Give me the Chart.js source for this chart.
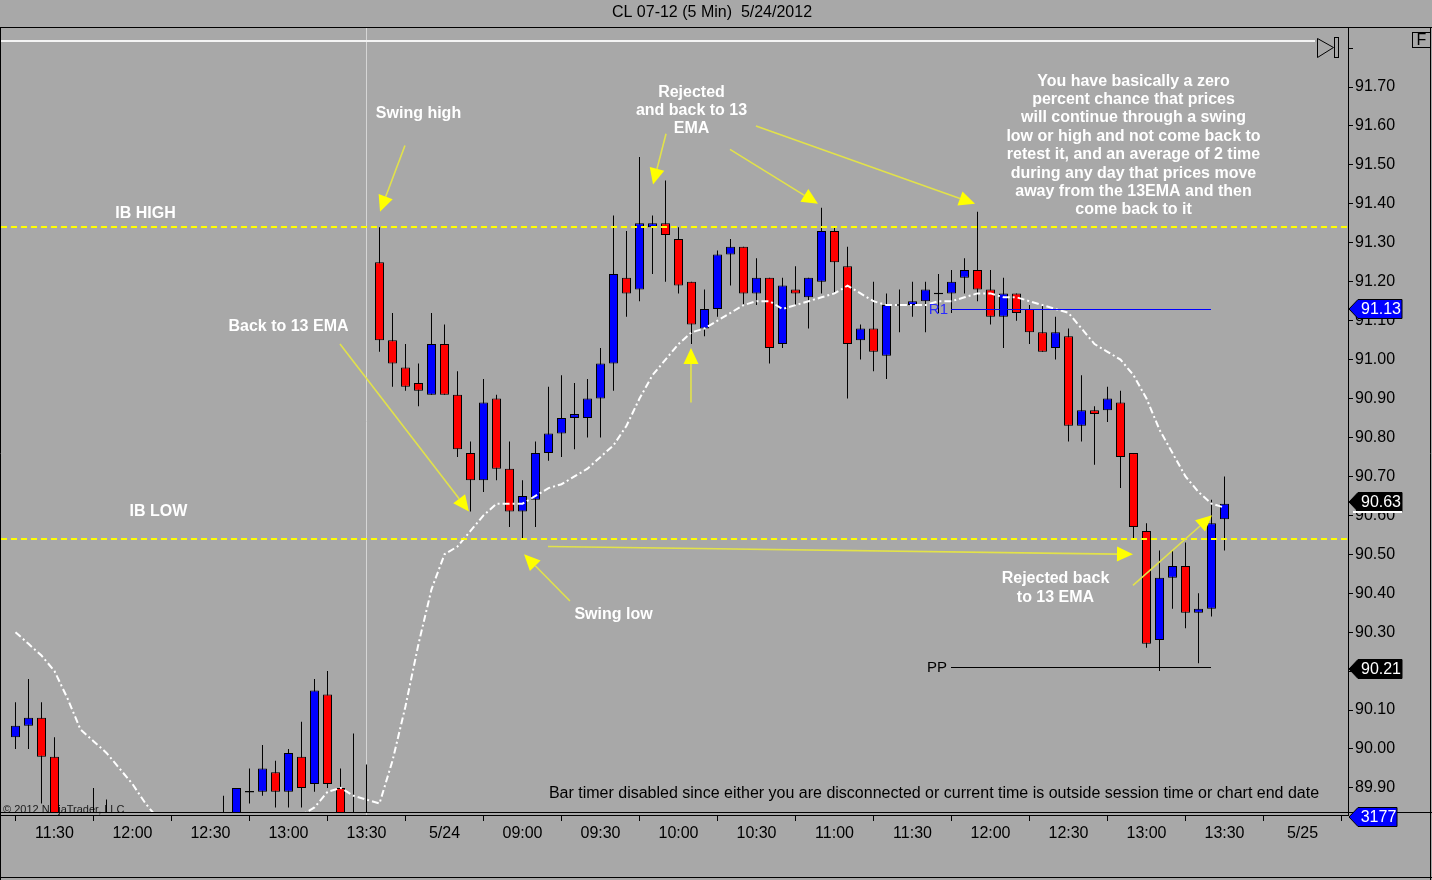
<!DOCTYPE html>
<html lang="en">
<head>
<meta charset="utf-8">
<title>CL 07-12 (5 Min) 5/24/2012</title>
<script src="https://cdn.jsdelivr.net/npm/chart.js@4.4.1/dist/chart.umd.min.js"></script>
<style>
  html, body { margin: 0; padding: 0; background: #a8a8a8; overflow: hidden; }
  #kotak { position: relative; width: 1432px; height: 880px; }
</style>
</head>
<body>
<div id="kotak"><canvas id="grafik" width="1432" height="880"></canvas></div>
<script>
// 5 menit CL 07-12, bar ke-0 = 11:15 sesi sebelumnya, bar ke-28 = bar pertama 5/24
// null = bar tidak kelihatan (di bawah skala)
const opens = [
  90.03, 90.06, 90.08, 89.98, null, null, 89.80, 89.78, null, null,
  null, null, null, null, null, null, 89.78, 89.79, 89.89, 89.89,
  89.94, 89.89, 89.98, 89.91, 90.14, 89.90, 89.82, 89.81, 91.25, 91.05,
  90.98, 90.94, 90.91, 91.04, 90.91, 90.76, 90.69, 90.90, 90.72, 90.61,
  90.64, 90.76, 90.81, 90.85, 90.85, 90.90, 90.99, 91.21, 91.18, 91.34,
  91.35, 91.31, 91.20, 91.08, 91.13, 91.27, 91.29, 91.17, 91.21, 91.04,
  91.18, 91.16, 91.20, 91.33, 91.24, 91.05, 91.08, 91.01, 91.14, 91.14,
  91.15, 91.17, 91.17, 91.21, 91.23, 91.18, 91.11, 91.17, 91.13, 91.07,
  91.03, 91.06, 90.83, 90.87, 90.87, 90.89, 90.76, 90.56, 90.28, 90.44,
  90.47, 90.35, 90.36, 90.59
];
const highs = [
  90.12, 90.18, 90.12, 90.03, null, null, 89.90, 89.87, null, null,
  null, null, null, null, null, null, 89.88, 89.90, 89.95, 90.01,
  89.97, 90.00, 90.07, 90.18, 90.20, 89.95, 90.04, 89.96, 91.34, 91.12,
  91.04, 90.99, 91.12, 91.09, 90.97, 90.79, 90.95, 90.91, 90.79, 90.69,
  90.79, 90.93, 90.96, 90.94, 90.95, 91.03, 91.37, 91.33, 91.52, 91.37,
  91.46, 91.34, 91.20, 91.18, 91.28, 91.31, 91.29, 91.26, 91.21, 91.21,
  91.24, 91.21, 91.39, 91.34, 91.29, 91.09, 91.20, 91.17, 91.18, 91.20,
  91.20, 91.22, 91.23, 91.26, 91.38, 91.23, 91.21, 91.17, 91.14, 91.14,
  91.11, 91.08, 90.96, 90.88, 90.93, 90.92, 90.76, 90.58, 90.51, 90.51,
  90.53, 90.40, 90.64, 90.70
];
const lows = [
  90.00, 90.00, 89.86, 89.76, null, null, 89.74, 89.72, null, null,
  null, null, null, null, null, null, 89.74, 89.77, 89.86, 89.88,
  89.85, 89.85, 89.85, 89.89, 89.90, 89.78, 89.78, 89.78, 91.02, 90.93,
  90.92, 90.88, 90.91, 90.91, 90.75, 90.61, 90.66, 90.69, 90.57, 90.54,
  90.57, 90.74, 90.75, 90.77, 90.80, 90.80, 90.92, 91.11, 91.15, 91.22,
  91.20, 91.17, 91.04, 91.06, 91.11, 91.19, 91.14, 91.14, 90.99, 91.03,
  91.14, 91.08, 91.17, 91.17, 90.90, 91.00, 90.97, 90.95, 91.07, 91.11,
  91.07, 91.12, 91.12, 91.17, 91.15, 91.09, 91.03, 91.10, 91.04, 91.02,
  91.00, 90.79, 90.79, 90.73, 90.84, 90.67, 90.54, 90.26, 90.20, 90.36,
  90.31, 90.22, 90.34, 90.51
];
const closes = [
  90.06, 90.08, 89.98, 89.79, null, null, 89.76, 89.75, null, null,
  null, null, null, null, null, null, 89.80, 89.90, 89.89, 89.95,
  89.89, 89.99, 89.90, 90.15, 89.91, 89.80, 89.80, 89.79, 91.05, 90.99,
  90.93, 90.92, 91.04, 90.91, 90.77, 90.69, 90.89, 90.72, 90.61, 90.65,
  90.76, 90.81, 90.85, 90.86, 90.90, 90.99, 91.22, 91.17, 91.35, 91.35,
  91.32, 91.19, 91.09, 91.13, 91.27, 91.29, 91.17, 91.21, 91.03, 91.19,
  91.17, 91.21, 91.33, 91.25, 91.04, 91.08, 91.02, 91.14, 91.14, 91.15,
  91.18, 91.17, 91.20, 91.23, 91.18, 91.11, 91.17, 91.12, 91.07, 91.02,
  91.07, 90.83, 90.87, 90.86, 90.90, 90.75, 90.57, 90.27, 90.44, 90.47,
  90.35, 90.36, 90.58, 90.63
];
// EMA 13
const ema13 = [
  90.30, 90.27, 90.24, 90.20, 90.13, 90.05, 90.02, 89.99, 89.95, 89.91,
  89.86, 89.82, 89.79, 89.77, 89.76, 89.75, 89.75, 89.76, 89.77, 89.78,
  89.79, 89.80, 89.83, 89.85, 89.89, 89.90, 89.88, 89.87, 89.86, 89.97,
  90.11, 90.27, 90.41, 90.50, 90.52, 90.56, 90.60, 90.63, 90.63, 90.63,
  90.65, 90.67, 90.68, 90.70, 90.72, 90.75, 90.78, 90.83, 90.90, 90.96,
  91.00, 91.04, 91.07, 91.08, 91.10, 91.12, 91.14, 91.15, 91.15, 91.13,
  91.14, 91.15, 91.16, 91.17, 91.19, 91.17, 91.15, 91.14, 91.14, 91.14,
  91.14, 91.15, 91.15, 91.16, 91.17, 91.17, 91.16, 91.16, 91.15, 91.14,
  91.13, 91.12, 91.08, 91.04, 91.02, 91.00, 90.96, 90.90, 90.82, 90.76,
  90.70, 90.66, 90.63, 90.62
];

const timeTicks = [3, 9, 15, 21, 27, 33, 39, 45, 51, 57, 63, 69, 75, 81, 87, 93, 99];
const timeLabels = ['11:30', '12:00', '12:30', '13:00', '13:30', '5/24', '09:00', '09:30', '10:00',
  '10:30', '11:00', '11:30', '12:00', '12:30', '13:00', '13:30', '5/25'];
const priceTicks = [89.9, 90.0, 90.1, 90.2, 90.3, 90.4, 90.5, 90.6, 90.7, 90.8, 90.9,
  91.0, 91.1, 91.2, 91.3, 91.4, 91.5, 91.6, 91.7, 91.8];

const ibHigh = 91.34;
const ibLow = 90.54;
const r1 = 91.13;
const pp = 90.21;
const lastClose = 90.63;
const barCount = 3177;
const sessionBreak = 27;

// catatan di grafik: [teks, bar, harga]
const notes = [
  [['Swing high'], 31, 91.631],
  [['IB HIGH'], 10, 91.376],
  [['IB LOW'], 11, 90.609],
  [['Back to 13 EMA'], 21, 91.084],
  [['Rejected', 'and back to 13', 'EMA'], 52, 91.687],
  [['Swing low'], 46, 90.344],
  [['Rejected back', 'to 13 EMA'], 80, 90.437],
  [['You have basically a zero', 'percent chance that prices', 'will continue through a swing',
    'low or high and not come back to', 'retest it, and an average of 2 time',
    'during any day that prices move', 'away from the 13EMA and then', 'come back to it'], 86, 91.715]
];
// panah: [bar awal, harga awal, bar ujung, harga ujung]
const arrows = [
  [29.96, 91.55, 28.04, 91.38],
  [24.96, 91.04, 34.88, 90.61],
  [50.04, 91.58, 49.04, 91.45],
  [54.96, 91.54, 61.73, 91.40],
  [56.96, 91.60, 73.81, 91.40],
  [51.96, 90.89, 51.96, 91.03],
  [42.65, 90.38, 39.12, 90.50],
  [40.96, 90.52, 85.96, 90.50],
  [85.96, 90.42, 92.04, 90.60]
];

const FONT = '"Liberation Sans", Arial, sans-serif';
const BG = '#a8a8a8';
const UP = '#0000ff';
const DOWN = '#ff0000';

// susun data candle
const bodyData = [];
const wickData = [];
const bodyColors = [];
for (let i = 0; i < opens.length; i++) {
  if (opens[i] === null) continue;
  let a = opens[i], b = closes[i];
  if (Math.abs(a - b) < 0.004) { const m = (a + b) / 2; a = m - 0.002; b = m + 0.002; }
  bodyData.push({ x: i, y: [a, b] });
  bodyColors.push(closes[i] >= opens[i] ? UP : DOWN);
  wickData.push({ x: i, y: [lows[i], highs[i]] });
}

function panah(ctx, x1, y1, x2, y2) {
  const ang = Math.atan2(y2 - y1, x2 - x1);
  const len = 16, half = 7.5;
  const bx = x2 - len * Math.cos(ang), by = y2 - len * Math.sin(ang);
  ctx.strokeStyle = '#e2e24a';
  ctx.lineWidth = 1.6;
  ctx.beginPath(); ctx.moveTo(x1, y1); ctx.lineTo(bx, by); ctx.stroke();
  ctx.fillStyle = '#ffff00';
  ctx.beginPath();
  ctx.moveTo(x2, y2);
  ctx.lineTo(bx + half * Math.sin(ang), by - half * Math.cos(ang));
  ctx.lineTo(bx - half * Math.sin(ang), by + half * Math.cos(ang));
  ctx.closePath(); ctx.fill();
}

function penanda(ctx, left, yc, text, fill, right) {
  const h = 19, tip = left + 1, bx = tip + 9;
  ctx.fillStyle = fill;
  ctx.beginPath();
  ctx.moveTo(tip, yc);
  ctx.lineTo(bx, yc - h / 2);
  ctx.lineTo(right, yc - h / 2);
  ctx.lineTo(right, yc + h / 2);
  ctx.lineTo(bx, yc + h / 2);
  ctx.closePath(); ctx.fill();
  ctx.strokeStyle = '#000'; ctx.lineWidth = 1; ctx.stroke();
  ctx.fillStyle = '#fff';
  ctx.font = '16px ' + FONT;
  ctx.textAlign = 'center'; ctx.textBaseline = 'middle';
  ctx.fillText(text, (bx + right) / 2 + 1, yc + 1);
}

function garis(ctx, x1, y1, x2, y2) {
  ctx.beginPath(); ctx.moveTo(x1, y1); ctx.lineTo(x2, y2); ctx.stroke();
}

const hiasan = {
  id: 'hiasan',
  beforeDraw(chart) {
    const ctx = chart.ctx;
    ctx.save();
    ctx.fillStyle = BG;
    ctx.fillRect(0, 0, chart.width, chart.height);
    ctx.restore();
  },
  beforeDatasetsDraw(chart) {
    const { ctx, chartArea: a, scales: { x } } = chart;
    ctx.save();
    // garis pemisah sesi
    const sx = Math.round(x.getPixelForValue(sessionBreak)) + 0.5;
    ctx.strokeStyle = '#d6d6d6'; ctx.lineWidth = 1;
    garis(ctx, sx, a.top, sx, a.bottom);
    // garis putih atas
    ctx.strokeStyle = '#f4f4f4'; ctx.lineWidth = 2;
    garis(ctx, a.left, a.top + 13, a.right - 33, a.top + 13);
    // copyright
    ctx.fillStyle = '#202020';
    ctx.font = '11px ' + FONT;
    ctx.textAlign = 'left'; ctx.textBaseline = 'middle';
    ctx.fillText('\u00a9 2012 NinjaTrader, LLC', a.left + 2, a.bottom - 5);
    ctx.restore();
  },
  afterDatasetsDraw(chart) {
    const { ctx, chartArea: a, scales: { x, y } } = chart;
    ctx.save();
    // IB high / low
    ctx.strokeStyle = '#ffff00'; ctx.lineWidth = 2; ctx.setLineDash([6, 4]);
    [ibHigh, ibLow].forEach(v => {
      const yy = Math.round(y.getPixelForValue(v));
      garis(ctx, a.left, yy, a.right, yy);
    });
    ctx.setLineDash([]);
    // R1 dan PP
    ctx.lineWidth = 1;
    const xa = Math.round(x.getPixelForValue(71.96)), xb = Math.round(x.getPixelForValue(91.96));
    const yr = Math.round(y.getPixelForValue(r1)) + 0.5;
    const yp = Math.round(y.getPixelForValue(pp)) + 0.5;
    ctx.strokeStyle = '#0000ff'; garis(ctx, xa, yr, xb, yr);
    ctx.strokeStyle = '#000000'; garis(ctx, xa, yp, xb, yp);
    ctx.font = '15px ' + FONT;
    ctx.textAlign = 'right'; ctx.textBaseline = 'middle';
    ctx.fillStyle = '#2b2bff'; ctx.fillText('R1', xa - 3, yr);
    ctx.fillStyle = '#000'; ctx.fillText('PP', xa - 4, yp);
    // panah
    arrows.forEach(p => panah(ctx, x.getPixelForValue(p[0]), y.getPixelForValue(p[1]),
      x.getPixelForValue(p[2]), y.getPixelForValue(p[3])));
    // catatan
    ctx.fillStyle = '#ffffff';
    ctx.font = 'bold 16px ' + FONT;
    ctx.textAlign = 'center'; ctx.textBaseline = 'middle';
    notes.forEach(n => {
      const cx = x.getPixelForValue(n[1]);
      const cy = y.getPixelForValue(n[2]);
      n[0].forEach((t, k) => ctx.fillText(t, cx, cy + k * 18.4));
    });
    ctx.restore();
  },
  afterDraw(chart) {
    const { ctx, chartArea: a, scales: { y } } = chart;
    const W = chart.width, H = chart.height;
    ctx.save();
    // judul
    ctx.fillStyle = '#000';
    ctx.font = '16px ' + FONT;
    ctx.textAlign = 'center'; ctx.textBaseline = 'middle';
    ctx.fillText('CL 07-12 (5 Min)  5/24/2012', 712, 13);
    // bar timer
    ctx.fillText('Bar timer disabled since either you are disconnected or current time is outside session time or chart end date',
      934, a.bottom - 21, 778);
    // bingkai
    ctx.strokeStyle = '#000'; ctx.lineWidth = 1;
    garis(ctx, 0, a.top - 0.5, W, a.top - 0.5);
    garis(ctx, 0.5, a.top - 1, 0.5, H);
    garis(ctx, W - 1.5, a.top - 1, W - 1.5, H);
    garis(ctx, 0, H - 2.5, W, H - 2.5);
    garis(ctx, 0, a.bottom - 2.5, W, a.bottom - 2.5);
    // tombol F
    ctx.strokeRect(1412.5, 32.5, 18, 15);
    ctx.fillText('F', 1421.5, 40.5);
    // ikon ke-kanan
    ctx.beginPath();
    ctx.moveTo(1317.5, 38.5); ctx.lineTo(1333.5, 47.5); ctx.lineTo(1317.5, 57.5); ctx.closePath();
    ctx.stroke();
    ctx.strokeRect(1334.5, 37.5, 4, 20);
    // penanda harga
    const kiri = y.left;
    penanda(ctx, kiri, Math.round(y.getPixelForValue(r1)), r1.toFixed(2), '#0000ff', 1402);
    penanda(ctx, kiri, Math.round(y.getPixelForValue(pp)) + 2, pp.toFixed(2), '#000000', 1402);
    const yl = Math.round(y.getPixelForValue(lastClose)) - 2;
    penanda(ctx, kiri, yl, lastClose.toFixed(2), '#000000', 1402);
    ctx.strokeStyle = '#ffffff'; ctx.lineWidth = 2;
    garis(ctx, kiri + 5, yl + 10, 1402, yl + 10);
    penanda(ctx, kiri, a.bottom + 2, String(barCount), '#0000ff', 1397);
    ctx.restore();
  }
};

new Chart(document.getElementById('grafik').getContext('2d'), {
  type: 'bar',
  data: {
    datasets: [
      {
        type: 'line',
        data: ema13.map((v, i) => ({ x: i, y: v })),
        borderColor: '#ffffff',
        borderWidth: 2,
        borderDash: [7, 3, 2, 3],
        pointRadius: 0,
        tension: 0,
        order: 0,
        clip: { left: 0, top: 0, right: 0, bottom: -3 }
      },
      {
        data: bodyData,
        backgroundColor: bodyColors,
        borderColor: '#000000',
        borderWidth: 1,
        borderSkipped: false,
        barThickness: 9,
        inflateAmount: 0,
        grouped: false,
        order: 1,
        clip: { left: 0, top: 0, right: 0, bottom: -3 }
      },
      {
        data: wickData,
        backgroundColor: '#000000',
        borderWidth: 0,
        barThickness: 1,
        inflateAmount: 0,
        grouped: false,
        order: 2,
        clip: { left: 0, top: 0, right: 0, bottom: -3 }
      }
    ]
  },
  options: {
    responsive: false,
    maintainAspectRatio: false,
    animation: false,
    events: [],
    layout: { padding: { top: 28, left: 1, right: 0, bottom: 0 } },
    plugins: {
      legend: { display: false },
      tooltip: { enabled: false },
      title: { display: false }
    },
    scales: {
      x: {
        type: 'linear',
        min: -1.115,
        max: 102.5,
        offset: false,
        afterBuildTicks: s => { s.ticks = timeTicks.map(v => ({ value: v })); },
        afterFit: s => { s.height = 65; s.paddingLeft = 0; s.paddingRight = 0; },
        ticks: {
          autoSkip: false,
          maxRotation: 0,
          color: '#000',
          padding: 3,
          font: { family: FONT, size: 16 },
          callback: v => timeLabels[timeTicks.indexOf(v)]
        },
        grid: { drawOnChartArea: false, drawTicks: true, tickLength: 6, color: '#000' },
        border: { display: true, color: '#000', width: 1 }
      },
      y: {
        type: 'linear',
        position: 'right',
        min: 89.8305,
        max: 91.8516,
        afterBuildTicks: s => { s.ticks = priceTicks.map(v => ({ value: v })); },
        afterFit: s => { s.width = 84; s.paddingTop = 0; s.paddingBottom = 0; },
        ticks: {
          color: '#000',
          padding: 2,
          font: { family: FONT, size: 16 },
          callback: v => (v > 91.75 ? '' : v.toFixed(2))
        },
        grid: { drawOnChartArea: false, drawTicks: true, tickLength: 5, color: '#000' },
        border: { display: true, color: '#000', width: 1 }
      }
    }
  },
  plugins: [hiasan]
});
</script>
</body>
</html>
